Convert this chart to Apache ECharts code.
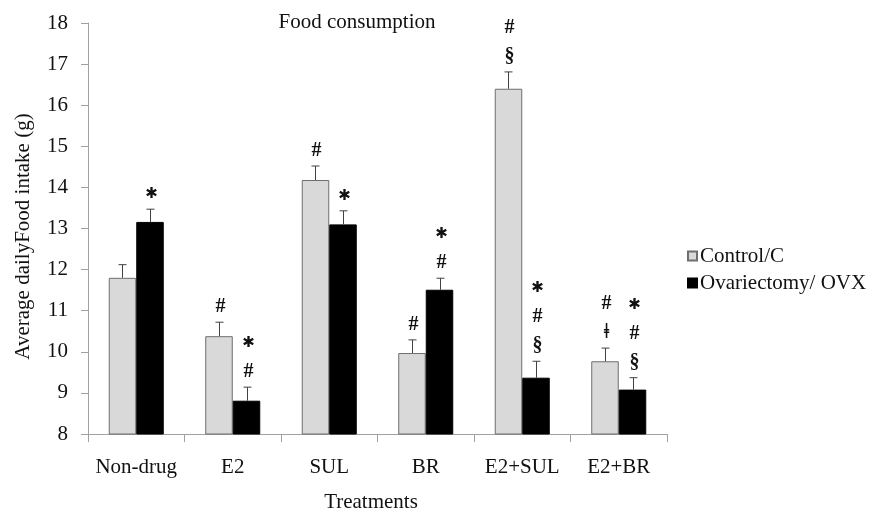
<!DOCTYPE html>
<html>
<head>
    <meta charset="utf-8">
    <title>Food consumption</title>
    <script src="https://cdn.jsdelivr.net/npm/echarts@6/dist/echarts.min.js"></script>
    <style>
        html, body { margin: 0; padding: 0; background: #fff; }
        #main { width: 878px; height: 510px; }
    </style>
</head>
<body>
<div id="main"></div>
<script>
    // values
    var categories = ['Non-drug', 'E2', 'SUL', 'BR', 'E2+SUL', 'E2+BR'];
    var controlMeans = [11.8, 10.38, 14.18, 9.97, 16.4, 9.77];
    var controlErr = [0.32, 0.34, 0.34, 0.32, 0.41, 0.32];
    var ovxMeans = [13.16, 8.81, 13.1, 11.51, 9.37, 9.08];
    var ovxErr = [0.31, 0.33, 0.33, 0.28, 0.4, 0.29];
    // significance marks, listed top to bottom
    var controlMarks = [[], ['#'], ['#'], ['#'], ['#', '§'], ['#', 'ǂ']];
    var ovxMarks = [['✱'], ['✱', '#'], ['✱'], ['✱', '#'], ['✱', '#', '§'], ['✱', '#', '§']];
    var yTicks = [8, 9, 10, 11, 12, 13, 14, 15, 16, 17, 18];

    var serif = 'Liberation Serif';
    var FS = 21;
    var BAR_FRAC = 0.285;

    var errData = [];
    categories.forEach(function (c, i) {
        errData.push([i, controlMeans[i], controlErr[i], -1]);
        errData.push([i, ovxMeans[i], ovxErr[i], 1]);
    });

    function renderErr(params, api) {
        var idx = api.value(0);
        var mean = api.value(1);
        var err = api.value(2);
        var side = api.value(3);
        var bw = api.size([1, 0])[0] * BAR_FRAC;
        var base = api.coord([idx, mean]);
        var top = api.coord([idx, mean + err]);
        var x = Math.round(base[0] + side * bw / 2) + 0.5;
        var children = [
            {type: 'line', shape: {x1: x, y1: base[1], x2: x, y2: top[1]},
                style: {stroke: '#404040', lineWidth: 1}},
            {type: 'line', shape: {x1: x - 4, y1: top[1], x2: x + 4, y2: top[1]},
                style: {stroke: '#404040', lineWidth: 1}}
        ];
        var marks = side < 0 ? controlMarks[idx] : ovxMarks[idx];
        var n = marks.length;
        marks.forEach(function (m, k) {
            var fromBottom = n - 1 - k;
            var isStar = m === '✱';
            children.push({
                type: 'text',
                style: {
                    text: m,
                    x: x + 1,
                    y: top[1] - 15 - fromBottom * 29,
                    textAlign: 'center',
                    textVerticalAlign: 'middle',
                    font: isStar ? 'bold 15px "DejaVu Sans"' : 'bold 20px "Liberation Serif", "DejaVu Serif"',
                    fill: '#111'
                }
            });
        });
        return {type: 'group', children: children};
    }

    var chart = echarts.init(document.getElementById('main'));
    chart.setOption({
        animation: false,
        backgroundColor: '#fff',
        textStyle: {fontFamily: serif, color: '#111'},
        title: {
            text: 'Food consumption',
            left: 357,
            top: 12,
            padding: 0,
            textAlign: 'center',
            textStyle: {fontFamily: serif, fontSize: FS, fontWeight: 'normal', color: '#111'}
        },
        legend: {
            data: ['Control/C', 'Ovariectomy/ OVX'],
            orient: 'vertical',
            left: 687,
            top: 245,
            padding: 0,
            itemGap: 5,
            itemWidth: 9,
            itemHeight: 9,
            icon: 'rect',
            textStyle: {fontFamily: serif, fontSize: FS, color: '#111', lineHeight: 22, padding: [0, 0, 0, -2]}
        },
        grid: {left: 88, right: 211, top: 23, bottom: 76, containLabel: false, outerBoundsMode: 'none'},
        xAxis: {
            type: 'category',
            data: categories,
            name: 'Treatments',
            nameLocation: 'middle',
            nameGap: 58,
            nameTextStyle: {fontFamily: serif, fontSize: FS, color: '#111', padding: [0, 13, 0, 0]},
            axisLine: {lineStyle: {color: '#a0a0a0', width: 1}},
            axisTick: {show: true, length: 8, lineStyle: {color: '#a0a0a0'}},
            axisLabel: {fontFamily: serif, fontSize: FS, color: '#111', margin: 23, interval: 0}
        },
        yAxis: {
            type: 'value',
            min: yTicks[0],
            max: yTicks[yTicks.length - 1],
            interval: 1,
            name: 'Average dailyFood intake (g)',
            nameLocation: 'middle',
            nameGap: 54,
            nameTextStyle: {fontFamily: serif, fontSize: FS, color: '#111', padding: [0, 16, 0, 0]},
            axisLine: {show: true, lineStyle: {color: '#a0a0a0', width: 1}},
            axisTick: {show: true, length: 7, lineStyle: {color: '#a0a0a0'}},
            axisLabel: {fontFamily: serif, fontSize: FS, color: '#111', margin: 20},
            splitLine: {show: false}
        },
        series: [
            {
                name: 'Control/C',
                type: 'bar',
                data: controlMeans,
                barWidth: (BAR_FRAC * 100) + '%',
                barGap: '0%',
                itemStyle: {color: '#d9d9d9', borderColor: '#6e6e6e', borderWidth: 1}
            },
            {
                name: 'Ovariectomy/ OVX',
                type: 'bar',
                data: ovxMeans,
                barWidth: (BAR_FRAC * 100) + '%',
                barGap: '0%',
                itemStyle: {color: '#000', borderColor: '#000', borderWidth: 1}
            },
            {
                name: 'errors',
                type: 'custom',
                renderItem: renderErr,
                data: errData,
                z: 10,
                silent: true
            }
        ]
    });
</script>
</body>
</html>
